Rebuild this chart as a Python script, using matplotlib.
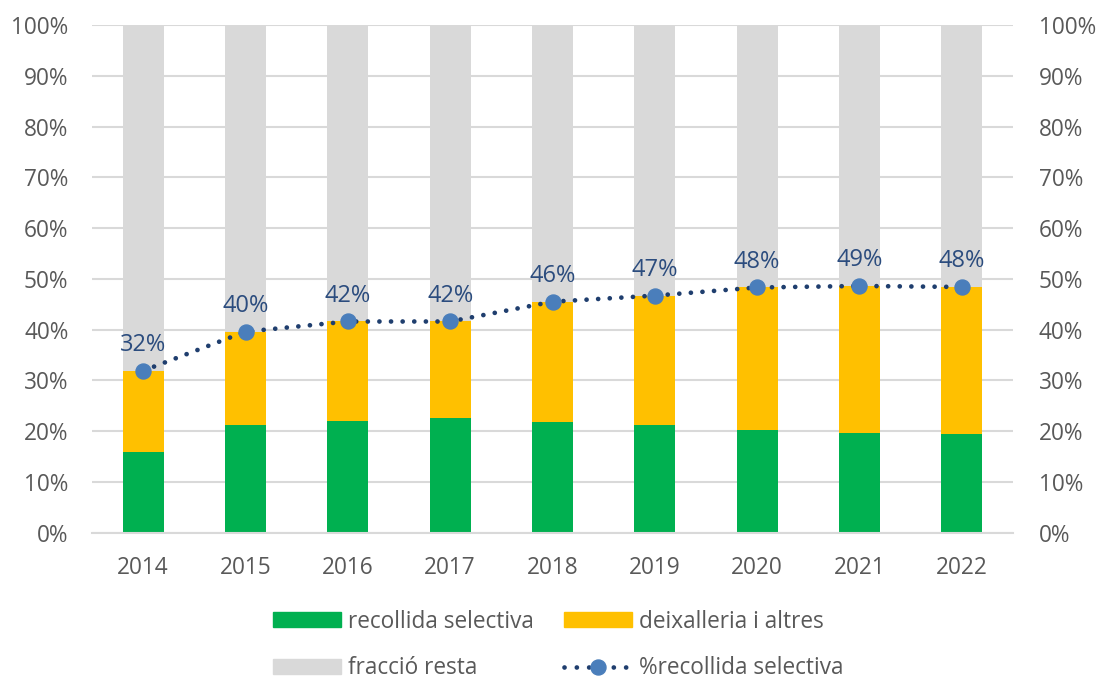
import matplotlib
matplotlib.use("Agg")
import matplotlib.pyplot as plt
from matplotlib.lines import Line2D
from matplotlib.patches import Patch
import numpy as np

years = ["2014", "2015", "2016", "2017", "2018", "2019", "2020", "2021", "2022"]
recollida = [15.9, 21.2, 22.0, 22.5, 21.8, 21.2, 20.3, 19.7, 19.5]
pct_selectiva = [31.9, 39.6, 41.6, 41.6, 45.5, 46.7, 48.3, 48.6, 48.4]
deixalleria = [p - r for p, r in zip(pct_selectiva, recollida)]
resta = [100 - p for p in pct_selectiva]
yticks = [0, 10, 20, 30, 40, 50, 60, 70, 80, 90, 100]

GREEN = "#00B050"
YELLOW = "#FFC000"
GREY = "#D9D9D9"
LINE = "#1F3E6E"
MARK = "#4A7EBB"
LABEL = "#2B4C7E"
TXT = "#595959"
FS = 16.3

plt.rcParams["font.family"] = ["Open Sans", "DejaVu Sans"]
fig = plt.figure(figsize=(10.99, 6.82), dpi=100)
ax = fig.add_axes([92 / 1099, 1 - 532.7 / 682, (1013 - 92) / 1099, (532.7 - 25) / 682])

x = np.arange(len(years))
w = 0.4
ax.bar(x, recollida, w, color=GREEN, zorder=2)
ax.bar(x, deixalleria, w, bottom=recollida, color=YELLOW, zorder=2)
ax.bar(x, resta, w, bottom=pct_selectiva, color=GREY, zorder=2)

ax.plot(x, pct_selectiva, color=LINE, lw=3.4, linestyle=(0, (0.01, 2.45)),
        dash_capstyle="round", zorder=3)
ax.plot(x, pct_selectiva, linestyle="none", marker="o", ms=10.8,
        color=MARK, zorder=4)
for xi, v in zip(x, pct_selectiva):
    ax.annotate(f"{v:.0f}%", (xi, v), xytext=(0, 10), textcoords="offset points",
                ha="center", va="bottom", fontsize=17, color=LABEL, zorder=5)

ax.set_xlim(-0.5, len(years) - 0.5)
ax.set_ylim(0, 100)
ax.set_yticks(yticks)
ax.set_yticklabels([f"{t}%" for t in yticks])
ax.set_xticks(x)
ax.set_xticklabels(years)
ax.yaxis.grid(True, color=GREY, lw=1.5, zorder=0)
ax.set_axisbelow(True)
for s in ["top", "right", "left"]:
    ax.spines[s].set_visible(False)
ax.spines["bottom"].set_color(GREY)
ax.spines["bottom"].set_linewidth(1.5)
ax.tick_params(axis="both", length=0, labelsize=FS, labelcolor=TXT)
ax.tick_params(axis="y", pad=17)
ax.tick_params(axis="x", pad=17)

ax2 = ax.twinx()
ax2.set_ylim(0, 100)
ax2.set_yticks(yticks)
ax2.set_yticklabels([f"{t}%" for t in yticks])
for s in ["top", "right", "left", "bottom"]:
    ax2.spines[s].set_visible(False)
ax2.tick_params(axis="y", length=0, labelsize=FS, labelcolor=TXT, pad=18.5)

handles = [
    Patch(color=GREEN, label="recollida selectiva"),
    Patch(color=GREY, label="fracció resta"),
    Patch(color=YELLOW, label="deixalleria i altres"),
    Line2D([0], [0], color=LINE, lw=3.4, linestyle=(0, (0.01, 2.6)), dash_capstyle="round",
           marker="o", ms=10.8, markerfacecolor=MARK, markeredgecolor=MARK,
           label="%recollida selectiva"),
]
leg = fig.legend(handles=handles, ncol=2, loc="center",
                 bbox_to_anchor=(0.5 + 9 / 1099, 1 - 645 / 682),
                 frameon=False, fontsize=FS, handlelength=3.02, handleheight=0.65,
                 labelspacing=1.0, columnspacing=1.31, handletextpad=0.31)
for t in leg.get_texts():
    t.set_color(TXT)

fig.savefig("out.png", dpi=100)
